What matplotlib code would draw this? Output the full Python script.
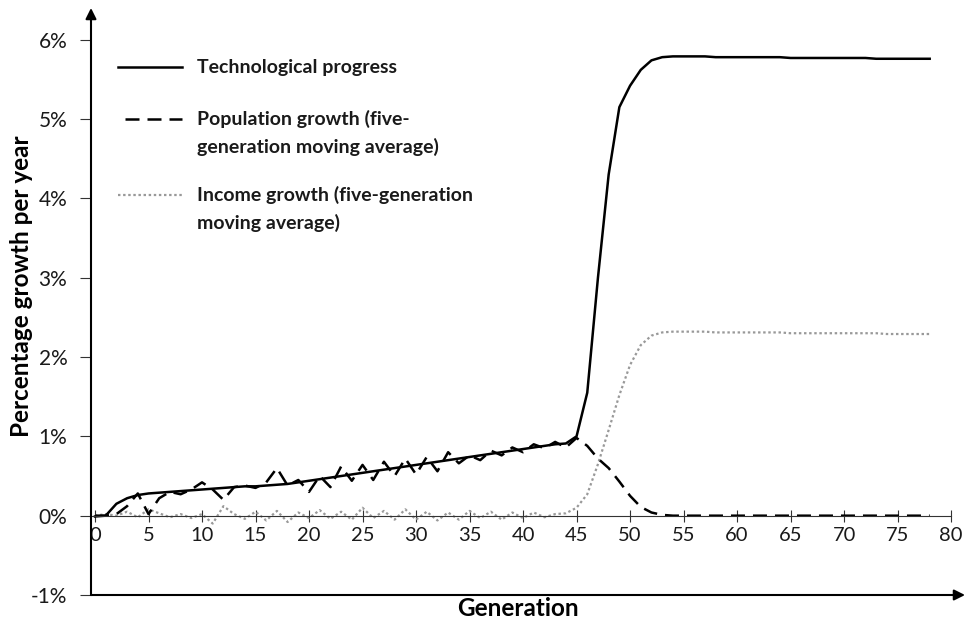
import matplotlib.pyplot as plt
from matplotlib.lines import Line2D

W, H = 970, 619

generation = list(range(79))

tech = [-0.01, 0.0, 0.15, 0.22, 0.26, 0.28, 0.29, 0.30, 0.31, 0.32,
        0.33, 0.34, 0.35, 0.36, 0.37, 0.37, 0.38, 0.39, 0.40, 0.42,
        0.44, 0.46, 0.48, 0.50, 0.52, 0.54, 0.56, 0.58, 0.60, 0.62,
        0.64, 0.66, 0.68, 0.70, 0.72, 0.74, 0.76, 0.78, 0.80, 0.82,
        0.84, 0.86, 0.88, 0.90, 0.91, 1.00, 1.55, 3.00, 4.30, 5.15,
        5.42, 5.62, 5.74, 5.78, 5.79, 5.79, 5.79, 5.79, 5.78, 5.78,
        5.78, 5.78, 5.78, 5.78, 5.78, 5.77, 5.77, 5.77, 5.77, 5.77,
        5.77, 5.77, 5.77, 5.76, 5.76, 5.76, 5.76, 5.76, 5.76]

population = [0.0, 0.0, 0.02, 0.12, 0.28, 0.02, 0.22, 0.30, 0.27, 0.33,
              0.42, 0.33, 0.20, 0.36, 0.38, 0.35, 0.42, 0.60, 0.38, 0.45,
              0.30, 0.50, 0.36, 0.62, 0.44, 0.64, 0.45, 0.68, 0.50, 0.72,
              0.52, 0.74, 0.56, 0.80, 0.66, 0.76, 0.70, 0.82, 0.76, 0.86,
              0.80, 0.90, 0.85, 0.93, 0.86, 0.98, 0.88, 0.72, 0.60, 0.43,
              0.25, 0.11, 0.04, 0.01, 0.0, 0.0, 0.0, 0.0, 0.0, 0.0,
              0.0, 0.0, 0.0, 0.0, 0.0, 0.0, 0.0, 0.0, 0.0, 0.0,
              0.0, 0.0, 0.0, 0.0, 0.0, 0.0, 0.0, 0.0, 0.0]

income = [0.0, 0.02, 0.0, 0.05, -0.02, 0.08, 0.03, -0.02, 0.02, -0.03,
          0.02, -0.10, 0.12, 0.02, -0.04, 0.05, -0.06, 0.06, -0.08, 0.04,
          -0.03, 0.07, -0.04, 0.05, -0.05, 0.10, -0.03, 0.06, -0.05, 0.08,
          -0.05, 0.05, -0.06, 0.04, -0.05, 0.06, -0.03, 0.05, -0.05, 0.04,
          -0.03, 0.04, -0.02, 0.02, 0.03, 0.10, 0.27, 0.65, 1.08, 1.52,
          1.90, 2.15, 2.27, 2.31, 2.32, 2.32, 2.32, 2.32, 2.31, 2.31,
          2.31, 2.31, 2.31, 2.31, 2.31, 2.30, 2.30, 2.30, 2.30, 2.30,
          2.30, 2.30, 2.30, 2.30, 2.29, 2.29, 2.29, 2.29, 2.29]

y_ticks = [-1, 0, 1, 2, 3, 4, 5, 6]
x_ticks = list(range(0, 81, 5))

legend_items = [
    ("Technological progress",),
    ("Population growth (five-", "generation moving average)"),
    ("Income growth (five-generation", "moving average)"),
]

plt.rcParams['font.family'] = ['Lato', 'DejaVu Sans']

fig = plt.figure(figsize=(W / 100, H / 100), dpi=100)
ax = fig.add_axes([91 / W, 1 - 595 / H, (965 - 91) / W, (595 - 8) / H])

ax.plot(generation, income, color='#999999', lw=1.6, dashes=(1.1, 1.2),
        dash_capstyle='butt')
ax.plot(generation, population, color='black', lw=1.8, dashes=(5.6, 3.2))
ax.plot(generation, tech, color='black', lw=1.8)

ax.set_xlim(-0.374, 81.3)
ax.set_ylim(-1, 6.4)

for s in ['top', 'right', 'left']:
    ax.spines[s].set_visible(False)
ax.spines['bottom'].set_position(('data', 0))
ax.spines['bottom'].set_bounds(-0.374, 80)
ax.spines['bottom'].set_color('#333333')
ax.spines['bottom'].set_linewidth(0.8)

ax.set_xticks(x_ticks)
ax.set_xticklabels([str(v) for v in x_ticks])
ax.set_yticks(y_ticks)
ax.set_yticklabels([f"{v}%" for v in y_ticks])
ax.tick_params(axis='x', direction='inout', length=9, width=0.8, color='#333333',
               pad=4, labelsize=14.5, labelcolor='#1a1a1a')
ax.tick_params(axis='y', direction='out', length=8, width=0.8, color='#333333',
               pad=9, labelsize=15, labelcolor='#1a1a1a')

# axis arrows
arrow = dict(arrowstyle='-|>', lw=1.5, color='black', mutation_scale=16,
             shrinkA=0, shrinkB=0)
ax.annotate('', xy=(0, 1), xytext=(0, 0), xycoords='axes fraction',
            textcoords='axes fraction', arrowprops=arrow)
ax.annotate('', xy=(1, 0), xytext=(0, 0), xycoords='axes fraction',
            textcoords='axes fraction', arrowprops=arrow)

fig.text(22 / W, 1 - 286 / H, "Percentage growth per year", rotation=90,
         ha='center', va='center', fontsize=17.5, fontweight='bold')
fig.text(518 / W, 1 - 608 / H, "Generation", ha='center', va='center',
         fontsize=17.5, fontweight='bold')

# legend drawn by hand so the handle lines up with the first text line
styles = [dict(color='black', lw=1.8),
          dict(color='black', lw=1.8, dashes=(5.6, 3.2)),
          dict(color='#999999', lw=1.6, dashes=(1.1, 1.2), dash_capstyle='butt')]
starts = [118, 125, 118]
rows = [67, 119, 195]
for lines, st, x0, y0 in zip(legend_items, styles, starts, rows):
    fig.add_artist(Line2D([x0 / W, 182 / W], [1 - y0 / H, 1 - y0 / H],
                          transform=fig.transFigure, **st))
    for i, t in enumerate(lines):
        fig.text(197 / W, 1 - (y0 + 28 * i) / H, t, ha='left', va='center',
                 fontsize=14, fontweight='bold', color='#1a1a1a')

fig.savefig('out.png', dpi=100)
